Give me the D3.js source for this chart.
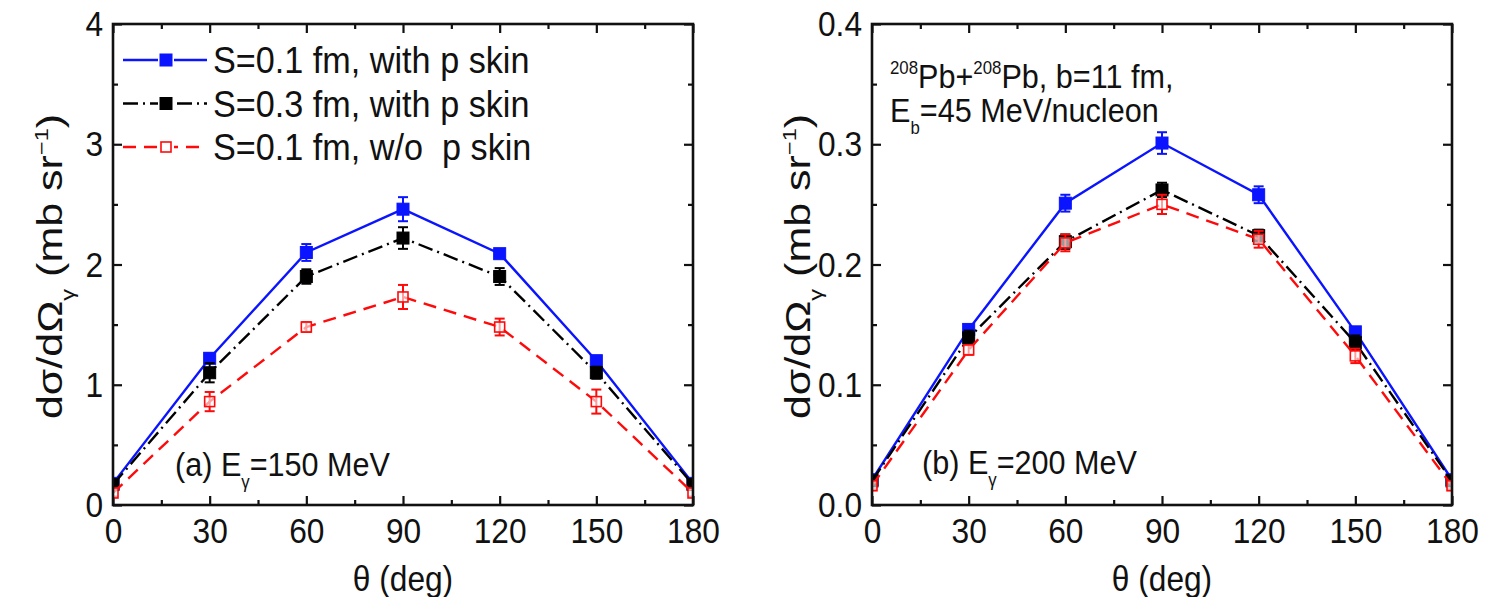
<!DOCTYPE html>
<html>
<head>
<meta charset="utf-8">
<script src="https://cdn.jsdelivr.net/npm/d3@7"></script>
<style>
  html, body { margin: 0; padding: 0; background: #fff; }
  svg { display: block; }
  text { font-family: "Liberation Sans", Arimo, Arial, sans-serif; fill: #111; }
</style>
</head>
<body>
<svg id="chart" width="1487" height="597"></svg>
<script>
// Photon emission angle (deg)
const angles = [0, 30, 60, 90, 120, 150, 180];

// (a) E_gamma = 150 MeV, cross sections in mb/sr
const aS01Skin    = [0.18, 1.22, 2.10, 2.46, 2.09, 1.20, 0.18];
const aS01SkinErr = [0.02, 0.04, 0.07, 0.10, 0.03, 0.04, 0.02];
const aS03Skin    = [0.17, 1.10, 1.90, 2.22, 1.90, 1.10, 0.17];
const aS03SkinErr = [0.02, 0.08, 0.06, 0.09, 0.07, 0.05, 0.02];
const aS01NoSkin    = [0.10, 0.86, 1.48, 1.73, 1.48, 0.86, 0.10];
const aS01NoSkinErr = [0.03, 0.08, 0.04, 0.10, 0.07, 0.10, 0.03];

// (b) E_gamma = 200 MeV
const bS01Skin    = [0.021, 0.146, 0.251, 0.301, 0.258, 0.144, 0.021];
const bS01SkinErr = [0.002, 0.003, 0.007, 0.009, 0.007, 0.003, 0.002];
const bS03Skin    = [0.020, 0.139, 0.219, 0.262, 0.224, 0.135, 0.020];
const bS03SkinErr = [0.002, 0.006, 0.006, 0.006, 0.005, 0.006, 0.002];
const bS01NoSkin    = [0.016, 0.129, 0.218, 0.250, 0.221, 0.124, 0.016];
const bS01NoSkinErr = [0.003, 0.004, 0.007, 0.008, 0.007, 0.006, 0.003];

// Axis ticks
const xTicks = [0, 30, 60, 90, 120, 150, 180];
const xMinor = [15, 45, 75, 105, 135, 165];
const aYTicks = [0, 1, 2, 3, 4];
const aYMinor = [0.5, 1.5, 2.5, 3.5];
const bYTicks = [0.0, 0.1, 0.2, 0.3, 0.4];
const bYMinor = [0.05, 0.15, 0.25, 0.35];

const seriesNames = ["S=0.1 fm, with p skin", "S=0.3 fm, with p skin", "S=0.1 fm, w/o\u00a0 p skin"];

const styles = [
  { color: "#0a14ff", dash: null, fill: true, size: 12 },
  { color: "#000000", dash: "15,5,2,5", fill: true, size: 12 },
  { color: "#ff0a0a", dash: "13,8", fill: false, size: 10 }
];

const svg = d3.select("#chart");
const TOP = 24, BOTTOM = 505;
const TICK_FONT = 36, TICK_SX = 0.88;
const FAMILY = '"Liberation Sans", Arimo, Arial, sans-serif';

// Text with optional sub/superscript pieces, drawn in a horizontally condensed group.
function richText(g, x, y, parts, size, opts) {
  opts = opts || {};
  const sx = opts.sx || 1;
  const wrap = g.append("g").attr("transform",
    opts.rotate ? `translate(${x},${y}) rotate(-90) scale(1,${sx})` : `translate(${x},${y}) scale(${sx},1)`);
  const t = wrap.append("text").attr("x", 0).attr("y", 0)
    .attr("font-size", size).attr("text-anchor", opts.anchor || "start");
  parts.forEach(p => {
    const s = t.append("tspan").text(p.t);
    if (p.sub) s.attr("font-size", size * 0.55).attr("dy", size * 0.35);
    else if (p.sup) s.attr("font-size", size * 0.55).attr("dy", -size * 0.42);
    if (p.back) s.attr("dy", p.back);
  });
  return t;
}

function panel(cfg) {
  const x = d3.scaleLinear().domain([0, 180]).range([cfg.x0, cfg.x1]);
  const y = d3.scaleLinear().domain([0, cfg.ymax]).range([BOTTOM, TOP]);
  const g = svg.append("g");

  const clipId = "clip" + cfg.id;
  svg.append("clipPath").attr("id", clipId).append("rect")
    .attr("x", cfg.x0).attr("y", TOP).attr("width", cfg.x1 - cfg.x0).attr("height", BOTTOM - TOP);

  const tickStyle = sel => {
    sel.select(".domain").remove();
    sel.selectAll(".tick line").attr("stroke", "#111").attr("stroke-width", 2.2);
  };
  const labelStyle = sel => sel.selectAll("text")
    .attr("font-size", TICK_FONT).attr("fill", "#111").attr("font-family", FAMILY);

  // bottom axis with labels
  g.append("g").attr("transform", `translate(0,${BOTTOM})`)
    .call(d3.axisBottom(x).tickValues(xTicks).tickSize(-9).tickPadding(12).tickFormat(d3.format("d")))
    .call(tickStyle).call(labelStyle)
    .call(s => s.selectAll("text").attr("transform", `scale(${TICK_SX},1)`));
  g.append("g").attr("transform", `translate(0,${BOTTOM})`)
    .call(d3.axisBottom(x).tickValues(xMinor).tickSize(-5).tickFormat(""))
    .call(tickStyle);
  // top mirror ticks
  g.append("g").attr("transform", `translate(0,${TOP})`)
    .call(d3.axisTop(x).tickValues(xTicks).tickSize(-9).tickFormat(""))
    .call(tickStyle);
  g.append("g").attr("transform", `translate(0,${TOP})`)
    .call(d3.axisTop(x).tickValues(xMinor).tickSize(-5).tickFormat(""))
    .call(tickStyle);
  // left axis with labels
  g.append("g").attr("transform", `translate(${cfg.x0},0)`)
    .call(d3.axisLeft(y).tickValues(cfg.yTicks).tickSize(-9).tickPadding(10).tickFormat(cfg.fmt))
    .call(tickStyle).call(labelStyle)
    .call(s => s.selectAll("text").attr("x", -10 / TICK_SX).attr("transform", `scale(${TICK_SX},1)`));
  g.append("g").attr("transform", `translate(${cfg.x0},0)`)
    .call(d3.axisLeft(y).tickValues(cfg.yMinor).tickSize(-5).tickFormat(""))
    .call(tickStyle);
  // right mirror ticks
  g.append("g").attr("transform", `translate(${cfg.x1},0)`)
    .call(d3.axisRight(y).tickValues(cfg.yTicks).tickSize(-9).tickFormat(""))
    .call(tickStyle);
  g.append("g").attr("transform", `translate(${cfg.x1},0)`)
    .call(d3.axisRight(y).tickValues(cfg.yMinor).tickSize(-5).tickFormat(""))
    .call(tickStyle);

  // data
  const dg = g.append("g").attr("clip-path", `url(#${clipId})`);
  const line = d3.line().x(d => x(d.a)).y(d => y(d.v));
  cfg.series.forEach((ser, i) => {
    const st = styles[i];
    const pts = angles.map((a, k) => ({ a, v: ser.v[k], e: ser.e[k] }));
    dg.append("path").datum(pts).attr("d", line)
      .attr("fill", "none").attr("stroke", st.color).attr("stroke-width", 2.4)
      .attr("stroke-dasharray", st.dash);
    // error bars
    const eb = dg.append("g").attr("stroke", st.color).attr("stroke-width", 2);
    pts.forEach(p => {
      const cx = x(p.a), yt = y(p.v + p.e), yb = y(p.v - p.e);
      eb.append("line").attr("x1", cx).attr("x2", cx).attr("y1", yt).attr("y2", yb);
      eb.append("line").attr("x1", cx - 5).attr("x2", cx + 5).attr("y1", yt).attr("y2", yt);
      eb.append("line").attr("x1", cx - 5).attr("x2", cx + 5).attr("y1", yb).attr("y2", yb);
    });
    dg.append("g").selectAll("rect").data(pts).join("rect")
      .attr("x", d => x(d.a) - st.size / 2).attr("y", d => y(d.v) - st.size / 2)
      .attr("width", st.size).attr("height", st.size)
      .attr("fill", st.fill ? st.color : "#fff")
      .attr("fill-opacity", st.fill ? 1 : 0.6)
      .attr("stroke", st.color).attr("stroke-width", st.fill ? 1 : 1.6);
  });

  // frame
  g.append("rect").attr("x", cfg.x0).attr("y", TOP)
    .attr("width", cfg.x1 - cfg.x0).attr("height", BOTTOM - TOP)
    .attr("fill", "none").attr("stroke", "#111").attr("stroke-width", 2.6);

  // axis titles
  richText(g, (cfg.x0 + cfg.x1) / 2, 591, [{ t: "\u03b8 (deg)" }], 36, { anchor: "middle", sx: 0.88 });
  const TS = 43;
  richText(g, cfg.titleX, (TOP + BOTTOM) / 2 + 2, [
    { t: "d\u03c3/d\u03a9" }, { t: "\u03b3", sub: true }, { t: " (mb sr", back: -TS * 0.35 },
    { t: "\u22121", sup: true }, { t: ")", back: TS * 0.42 }
  ], TS, { anchor: "middle", rotate: true, sx: 0.8 });

  // panel label
  richText(g, cfg.x0 + cfg.labelDx, cfg.labelY, [
    { t: cfg.tag + " E" }, { t: "\u03b3", sub: true }, { t: "=" + cfg.energy + " MeV", back: -34 * 0.35 }
  ], 34, { sx: 0.9 });

  return { x, y, g };
}

const pa = panel({
  id: "a", x0: 113, x1: 693, ymax: 4, yTicks: aYTicks, yMinor: aYMinor, fmt: d3.format("d"),
  titleX: 62, tag: "(a)", energy: 150, labelDx: 62, labelY: 476,
  series: [{ v: aS01Skin, e: aS01SkinErr }, { v: aS03Skin, e: aS03SkinErr }, { v: aS01NoSkin, e: aS01NoSkinErr }]
});
const pb = panel({
  id: "b", x0: 872, x1: 1452, ymax: 0.4, yTicks: bYTicks, yMinor: bYMinor, fmt: d3.format(".1f"),
  titleX: 810, tag: "(b)", energy: 200, labelDx: 50, labelY: 474,
  series: [{ v: bS01Skin, e: bS01SkinErr }, { v: bS03Skin, e: bS03SkinErr }, { v: bS01NoSkin, e: bS01NoSkinErr }]
});

// legend in panel (a)
const lg = pa.g.append("g");
seriesNames.forEach((name, i) => {
  const st = styles[i];
  const cy = 60 + i * 43.5;
  lg.append("line").attr("x1", 123).attr("x2", 207).attr("y1", cy).attr("y2", cy)
    .attr("stroke", st.color).attr("stroke-width", 2.6).attr("stroke-dasharray", st.dash);
  lg.append("rect").attr("x", 158).attr("y", cy - 9).attr("width", 16).attr("height", 18).attr("fill", "#fff");
  lg.append("rect").attr("x", 166 - st.size / 2).attr("y", cy - st.size / 2)
    .attr("width", st.size).attr("height", st.size)
    .attr("fill", st.fill ? st.color : "#fff").attr("stroke", st.color).attr("stroke-width", st.fill ? 1 : 1.6);
  richText(lg, 213, cy + 13, [{ t: name }], 36, { sx: 0.95 });
});

// reaction info in panel (b)
const ig = pb.g.append("g");
const IS = 34;
richText(ig, 890, 88, [
  { t: "208", sup: true }, { t: "Pb+", back: IS * 0.42 }, { t: "208", sup: true },
  { t: "Pb, b=11 fm,", back: IS * 0.42 }
], IS, { sx: 0.9 });
richText(ig, 890, 122, [
  { t: "E" }, { t: "b", sub: true }, { t: "=45 MeV/nucleon", back: -IS * 0.35 }
], IS, { sx: 0.9 });
</script>
</body>
</html>
